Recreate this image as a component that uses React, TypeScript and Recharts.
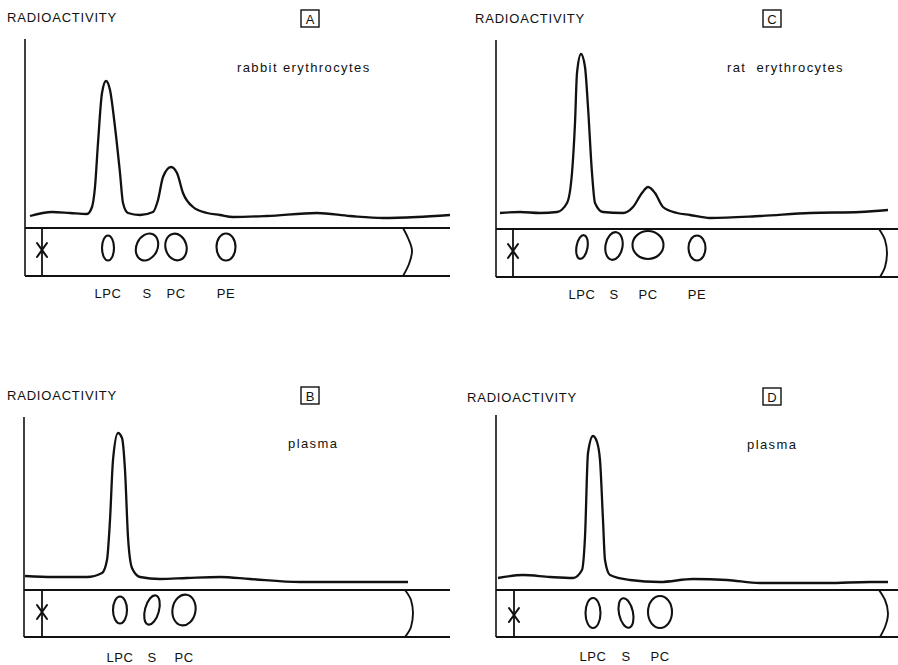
import React from 'react';
import { ComposedChart, Line, Scatter, XAxis, YAxis, ReferenceLine } from 'recharts';

// ---- data (x: migration distance from the strip start, u: radioactivity, strip lies below 0) ----
type Pt = { x: number; u: number };
type SpotPt = { name: string; x: number; u: number };

// Panel A – rabbit erythrocytes
const traceA: Pt[] = [
  { x: 5, u: 12 }, { x: 27, u: 16 }, { x: 45, u: 15 }, { x: 62, u: 14 }, { x: 67, u: 21 },
  { x: 70, u: 41 }, { x: 73, u: 85 }, { x: 77, u: 135 }, { x: 81, u: 147 }, { x: 85, u: 138 },
  { x: 90, u: 101 }, { x: 95, u: 55 }, { x: 98, u: 25 }, { x: 103, u: 15 }, { x: 115, u: 13 },
  { x: 128, u: 16 }, { x: 133, u: 28 }, { x: 138, u: 51 }, { x: 146, u: 61 }, { x: 152, u: 55 },
  { x: 158, u: 35 }, { x: 168, u: 21 }, { x: 182, u: 15 }, { x: 195, u: 13 }, { x: 208, u: 11 },
  { x: 242, u: 12 }, { x: 292, u: 15 }, { x: 325, u: 12 }, { x: 358, u: 10 }, { x: 392, u: 11 },
  { x: 425, u: 13 },
];
const spotsA: SpotPt[] = [
  { name: 'LPC', x: 83, u: -20 }, { name: 'S', x: 122, u: -19 },
  { name: 'PC', x: 151, u: -19 }, { name: 'PE', x: 201, u: -19 },
];
const originA: Pt = { x: 17, u: -22 };
const frontA: Pt[] = [
  { x: 378, u: 0 }, { x: 383, u: -10 }, { x: 387, u: -23 }, { x: 384, u: -36 }, { x: 378, u: -48 },
];

// Panel C – rat erythrocytes
const traceC: Pt[] = [
  { x: 4, u: 16 }, { x: 24, u: 17 }, { x: 44, u: 16 }, { x: 61, u: 17 }, { x: 71, u: 26 },
  { x: 76, u: 56 }, { x: 79, u: 106 }, { x: 81, u: 156 }, { x: 85, u: 175 }, { x: 89, u: 162 },
  { x: 92, u: 122 }, { x: 96, u: 56 }, { x: 99, u: 26 }, { x: 107, u: 17 }, { x: 127, u: 16 },
  { x: 137, u: 22 }, { x: 146, u: 36 }, { x: 152, u: 42 }, { x: 159, u: 36 }, { x: 167, u: 22 },
  { x: 181, u: 16 }, { x: 194, u: 14 }, { x: 214, u: 11 }, { x: 264, u: 13 }, { x: 314, u: 16 },
  { x: 364, u: 17 }, { x: 392, u: 19 },
];
const spotsC: SpotPt[] = [
  { name: 'LPC', x: 86, u: -18 }, { name: 'S', x: 118, u: -17 },
  { name: 'PC', x: 152, u: -16 }, { name: 'PE', x: 201, u: -19 },
];
const originC: Pt = { x: 17, u: -22 };
const frontC: Pt[] = [
  { x: 383, u: 0 }, { x: 389, u: -11 }, { x: 391, u: -24 }, { x: 389, u: -38 }, { x: 384, u: -48 },
];

// Panel B – plasma
const traceB: Pt[] = [
  { x: 1, u: 14 }, { x: 29, u: 13 }, { x: 63, u: 13 }, { x: 78, u: 17 }, { x: 83, u: 30 },
  { x: 86, u: 70 }, { x: 89, u: 130 }, { x: 94, u: 157 }, { x: 98, u: 152 }, { x: 101, u: 120 },
  { x: 104, u: 53 }, { x: 108, u: 22 }, { x: 116, u: 13 }, { x: 136, u: 11 }, { x: 163, u: 12 },
  { x: 196, u: 13 }, { x: 226, u: 11 }, { x: 276, u: 8 }, { x: 326, u: 8 }, { x: 384, u: 8 },
];
const spotsB: SpotPt[] = [
  { name: 'LPC', x: 96, u: -20 }, { name: 'S', x: 128, u: -20 }, { name: 'PC', x: 160, u: -20 },
];
const originB: Pt = { x: 18, u: -22 };
const frontB: Pt[] = [
  { x: 381, u: 0 }, { x: 387, u: -10 }, { x: 389, u: -23 }, { x: 387, u: -37 }, { x: 381, u: -47 },
];

// Panel D – plasma
const traceD: Pt[] = [
  { x: 2, u: 12 }, { x: 27, u: 15 }, { x: 54, u: 13 }, { x: 77, u: 12 }, { x: 86, u: 20 },
  { x: 89, u: 53 }, { x: 92, u: 137 }, { x: 97, u: 154 }, { x: 101, u: 148 }, { x: 104, u: 130 },
  { x: 107, u: 70 }, { x: 109, u: 30 }, { x: 114, u: 15 }, { x: 134, u: 10 }, { x: 164, u: 8 },
  { x: 197, u: 11 }, { x: 231, u: 10 }, { x: 264, u: 7 }, { x: 331, u: 7 }, { x: 374, u: 8 },
  { x: 392, u: 8 },
];
const spotsD: SpotPt[] = [
  { name: 'LPC', x: 97, u: -23 }, { name: 'S', x: 130, u: -23 }, { name: 'PC', x: 164, u: -22 },
];
const originD: Pt = { x: 18, u: -25 };
const frontD: Pt[] = [
  { x: 383, u: 0 }, { x: 389, u: -10 }, { x: 392, u: -23.5 }, { x: 389, u: -37 }, { x: 384, u: -47 },
];

const panelLetters = ['A', 'C', 'B', 'D'];
const sampleNames = ['rabbit erythrocytes', 'rat erythrocytes', 'plasma', 'plasma'];
const yTitle = 'RADIOACTIVITY';

// ---- styling / layout ----
const FONT = '"Liberation Sans", Arial, Helvetica, sans-serif';
const INK = '#111111';

type Shape = { rx: number; ry: number; rot: number };
const spotShapes: Record<string, Record<string, Shape>> = {
  A: { LPC: { rx: 6, ry: 12.5, rot: 0 }, S: { rx: 10.5, ry: 14, rot: 25 }, PC: { rx: 10.5, ry: 13.5, rot: -15 }, PE: { rx: 9.5, ry: 13.5, rot: 0 } },
  C: { LPC: { rx: 5.5, ry: 12, rot: 10 }, S: { rx: 8.5, ry: 14, rot: 10 }, PC: { rx: 15.5, ry: 14, rot: 0 }, PE: { rx: 8.5, ry: 12.5, rot: 0 } },
  B: { LPC: { rx: 7, ry: 13.5, rot: 0 }, S: { rx: 7, ry: 15, rot: 15 }, PC: { rx: 11.5, ry: 15.5, rot: 10 } },
  D: { LPC: { rx: 7.5, ry: 15, rot: 0 }, S: { rx: 7, ry: 15, rot: -12 }, PC: { rx: 12, ry: 16, rot: 0 } },
};

type Cfg = {
  key: string; left: number; top: number; w: number; h: number;
  margin: { top: number; right: number; bottom: number; left: number };
  xMax: number; yDomain: [number, number]; tickMargin: number;
  trace: Pt[]; spots: SpotPt[]; origin: Pt; front: Pt[];
};

// margin.left / margin.bottom already exclude the 1px axis width/height below
const panels: Cfg[] = [
  { key: 'A', left: 0, top: 0, w: 460, h: 320, margin: { top: 39, right: 10, bottom: 43, left: 24 }, xMax: 425, yDomain: [-48, 189], tickMargin: 13, trace: traceA, spots: spotsA, origin: originA, front: frontA },
  { key: 'C', left: 460, top: 0, w: 438, h: 320, margin: { top: 40, right: 0, bottom: 42, left: 35 }, xMax: 402, yDomain: [-48, 189], tickMargin: 13, trace: traceC, spots: spotsC, origin: originC, front: frontC },
  { key: 'B', left: 0, top: 380, w: 460, h: 285, margin: { top: 37, right: 10, bottom: 27, left: 23 }, xMax: 426, yDomain: [-47, 173], tickMargin: 16, trace: traceB, spots: spotsB, origin: originB, front: frontB },
  { key: 'D', left: 460, top: 380, w: 438, h: 285, margin: { top: 35, right: 0, bottom: 27, left: 35 }, xMax: 402, yDomain: [-47, 175], tickMargin: 15, trace: traceD, spots: spotsD, origin: originD, front: frontD },
];

// text placement (page pixels)
const titlePos = [{ x: 7, y: 22 }, { x: 475, y: 23 }, { x: 7, y: 400 }, { x: 467, y: 402 }];
const boxPos = [{ x: 301, y: 10 }, { x: 763, y: 10 }, { x: 301, y: 387 }, { x: 763, y: 388 }];
const samplePos = [{ x: 237, y: 72 }, { x: 727, y: 72 }, { x: 288, y: 448 }, { x: 747, y: 449 }];

function makeSpot(panelKey: string) {
  return (props: any) => {
    const { cx, cy, payload } = props;
    if (cx == null || cy == null) return <g />;
    const s = spotShapes[panelKey][payload.name] || { rx: 8, ry: 13, rot: 0 };
    return (
      <ellipse cx={cx} cy={cy} rx={s.rx} ry={s.ry} transform={`rotate(${s.rot} ${cx} ${cy})`}
        fill="none" stroke={INK} strokeWidth={2.1} />
    );
  };
}

const XMark = (props: any) => {
  const { cx, cy } = props;
  if (cx == null || cy == null) return <g />;
  return (
    <g stroke={INK} strokeWidth={2.1} strokeLinecap="round">
      <line x1={cx - 5} y1={cy - 7} x2={cx + 5} y2={cy + 7} />
      <line x1={cx + 5} y1={cy - 7} x2={cx - 5} y2={cy + 7} />
    </g>
  );
};

function Panel({ cfg }: { cfg: Cfg }) {
  const names = new Map(cfg.spots.map((s) => [s.x, s.name]));
  return (
    <div style={{ position: 'absolute', left: cfg.left, top: cfg.top }}>
      <ComposedChart width={cfg.w} height={cfg.h} data={cfg.trace} margin={cfg.margin}>
        <XAxis
          type="number" dataKey="x" domain={[0, cfg.xMax]} allowDataOverflow
          ticks={cfg.spots.map((s) => s.x)} interval={0}
          tickFormatter={(v: number) => names.get(v) ?? ''}
          tickLine={false} tickSize={0} tickMargin={cfg.tickMargin} height={1}
          axisLine={{ stroke: INK, strokeWidth: 2 }}
          tick={{ fill: INK, fontSize: 13, fontFamily: FONT, letterSpacing: 0.5 }}
        />
        <YAxis
          type="number" dataKey="u" domain={cfg.yDomain} allowDataOverflow width={1}
          tick={false} tickLine={false} axisLine={{ stroke: INK, strokeWidth: 1.6 }}
        />
        <ReferenceLine y={0} stroke={INK} strokeWidth={2} />
        <ReferenceLine
          segment={[{ x: cfg.origin.x, y: 0 }, { x: cfg.origin.x, y: cfg.yDomain[0] }]}
          stroke={INK} strokeWidth={1.8}
        />
        <Line dataKey="u" type="monotone" stroke={INK} strokeWidth={2.3} dot={false} isAnimationActive={false} />
        <Line data={cfg.front} dataKey="u" type="monotoneY" stroke={INK} strokeWidth={1.9} dot={false} isAnimationActive={false} />
        <Scatter data={cfg.spots} dataKey="u" shape={makeSpot(cfg.key)} isAnimationActive={false} />
        <Scatter data={[cfg.origin]} dataKey="u" shape={XMark} isAnimationActive={false} />
      </ComposedChart>
    </div>
  );
}

export default function App() {
  return (
    <div style={{ position: 'absolute', left: 0, top: 0, width: 898, height: 665, background: '#fff', overflow: 'hidden' }}>
      {panels.map((p) => <Panel key={p.key} cfg={p} />)}
      <svg width={898} height={665} style={{ position: 'absolute', left: 0, top: 0, pointerEvents: 'none' }}>
        {panelLetters.map((letter, i) => (
          <g key={letter}>
            <text x={titlePos[i].x} y={titlePos[i].y} fontFamily={FONT} fontSize={13} letterSpacing={0.8} fill={INK}>
              {yTitle}
            </text>
            <rect x={boxPos[i].x} y={boxPos[i].y} width={18} height={17} fill="none" stroke={INK} strokeWidth={1.4} />
            <text x={boxPos[i].x + 9} y={boxPos[i].y + 13.5} textAnchor="middle" fontFamily={FONT} fontSize={13} fill={INK}>
              {letter}
            </text>
            <text x={samplePos[i].x} y={samplePos[i].y} fontFamily={FONT} fontSize={13} letterSpacing={1.4} wordSpacing={i === 1 ? 5 : 0} fill={INK}>
              {sampleNames[i]}
            </text>
          </g>
        ))}
      </svg>
    </div>
  );
}
